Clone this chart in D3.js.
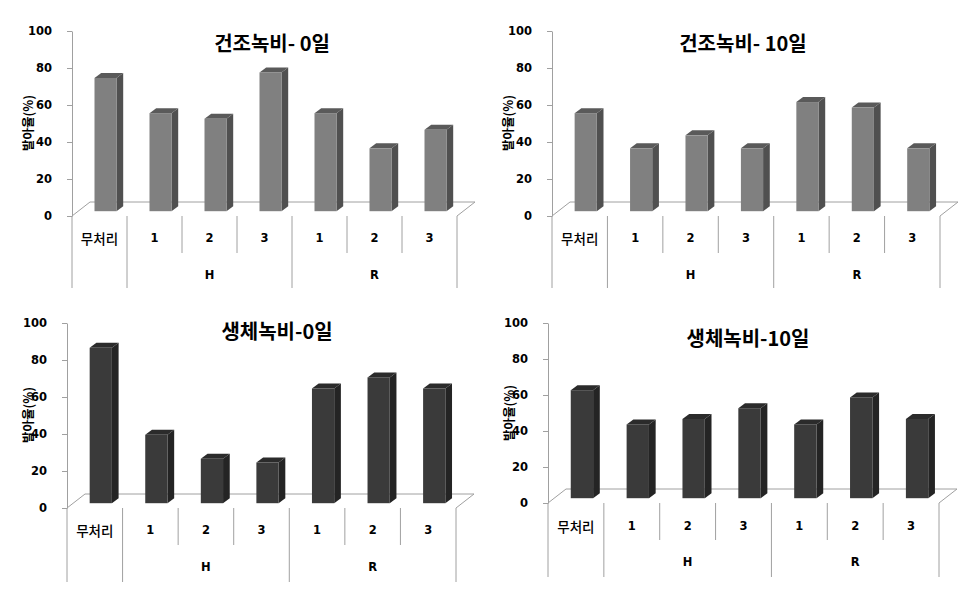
<!DOCTYPE html>
<html>
<head>
<meta charset="utf-8">
<script src="https://cdn.jsdelivr.net/npm/d3@7/dist/d3.min.js"></script>
<style>
  html, body { margin: 0; padding: 0; background: #fff; }
  svg { display: block; }
</style>
</head>
<body>
<svg id="chart" width="973" height="594"></svg>
<script>
// ---------- data ----------
const categories = ["무처리", "1", "2", "3", "1", "2", "3"];
const groupLabels = ["", "H", "R"];
const groupSpans = [1, 3, 3];
const yTicks = [0, 20, 40, 60, 80, 100];
const yLabel = "발아율(%)";
const titles = ["건조녹비- 0일", "건조녹비- 10일", "생체녹비-0일", "생체녹비-10일"];
const dry0 = [72, 53, 50, 75, 53, 34, 44];
const dry10 = [53, 34, 41, 34, 59, 56, 34];
const fresh0 = [84, 37, 24, 22, 62, 68, 62];
const fresh10 = [60, 41, 44, 50, 41, 56, 44];

// ---------- layout / style ----------
const grayBar = { front: "#808080", side: "#505050", top: "#5a5a5a" };
const darkBar = { front: "#3a3a3a", side: "#242424", top: "#2b2b2b" };
const panels = [
  { values: dry0, title: titles[0], colors: grayBar, axisX: 72, right: 457, yTop: 31, y0: 216,
    row1: 253, row2: 288, lab1: 238, lab2: 275, tx: 272, ty: 42, lx: 27, ly: 123 },
  { values: dry10, title: titles[1], colors: grayBar, axisX: 552, right: 940, yTop: 31, y0: 216,
    row1: 253, row2: 288, lab1: 238, lab2: 275, tx: 743, ty: 42, lx: 507, ly: 123 },
  { values: fresh0, title: titles[2], colors: darkBar, axisX: 67, right: 456, yTop: 323, y0: 508,
    row1: 545, row2: 582, lab1: 530, lab2: 567, tx: 277, ty: 330, lx: 27, ly: 415 },
  { values: fresh10, title: titles[3], colors: darkBar, axisX: 548, right: 939, yTop: 323, y0: 503,
    row1: 540, row2: 577, lab1: 526, lab2: 562, tx: 748, ty: 337, lx: 508, ly: 413 }
];
const lineColor = "#a0a0a0";
const depthDX = 18, depthDY = -14;      // floor depth
const barOffX = 6, barOffY = -4.8;      // bar sits slightly back in the floor
const barDX = 6.7, barDY = -5;          // bar's own depth
const barWidthFrac = 0.4;

const svg = d3.select("#chart");

panels.forEach(p => {
  const g = svg.append("g");
  const y = d3.scaleLinear().domain([0, 100]).range([p.y0, p.yTop]);
  const x = d3.scaleBand().domain(d3.range(categories.length)).range([p.axisX, p.right]).paddingInner(0).paddingOuter(0);
  const bw = x.bandwidth() * barWidthFrac;

  // floor outline
  const floorPts = [
    [p.axisX, p.y0], [p.axisX + depthDX, p.y0 + depthDY],
    [p.right + depthDX, p.y0 + depthDY], [p.right, p.y0]
  ];
  g.append("path")
    .attr("d", d3.line()(floorPts))
    .attr("fill", "none").attr("stroke", lineColor).attr("stroke-width", 1);

  // y axis
  const yAxis = d3.axisLeft(y).tickValues(yTicks).tickSize(5).tickPadding(15).tickSizeOuter(0);
  const ax = g.append("g").attr("transform", `translate(${p.axisX},0)`).call(yAxis);
  ax.select(".domain").attr("stroke", lineColor);
  ax.selectAll(".tick line").attr("stroke", lineColor);
  ax.selectAll(".tick text")
    .attr("fill", "#000")
    .style("font-family", "'DejaVu Sans', sans-serif")
    .style("font-weight", "bold")
    .style("font-size", "11.5px");

  // bars
  const bars = g.append("g");
  p.values.forEach((v, i) => {
    const cx = x(i) + x.bandwidth() / 2 + barOffX;
    const xl = cx - bw / 2, xr = cx + bw / 2;
    const yb = y(0) + barOffY, yt = y(v) + barOffY;
    bars.append("path")
      .attr("d", d3.line()([[xr, yb], [xr + barDX, yb + barDY], [xr + barDX, yt + barDY], [xr, yt]]) + "Z")
      .attr("fill", p.colors.side);
    bars.append("path")
      .attr("d", d3.line()([[xl, yt], [xl + barDX, yt + barDY], [xr + barDX, yt + barDY], [xr, yt]]) + "Z")
      .attr("fill", p.colors.top);
    bars.append("rect")
      .attr("x", xl).attr("y", yt).attr("width", bw).attr("height", yb - yt)
      .attr("fill", p.colors.front);
  });

  // category axis lines
  const groupStarts = [];
  let acc = 0;
  groupSpans.forEach(s => { groupStarts.push(acc); acc += s; });
  for (let i = 0; i <= categories.length; i++) {
    const xx = i < categories.length ? x(i) : p.right;
    const isGroupEdge = i === categories.length || groupStarts.includes(i);
    g.append("line")
      .attr("x1", xx).attr("x2", xx)
      .attr("y1", p.y0).attr("y2", isGroupEdge ? p.row2 : p.row1)
      .attr("stroke", lineColor).attr("stroke-width", 1);
  }

  // category labels
  categories.forEach((c, i) => {
    const isHangul = /[\uAC00-\uD7A3]/.test(c);
    g.append("text")
      .attr("x", x(i) + x.bandwidth() / 2)
      .attr("y", p.lab1)
      .attr("text-anchor", "middle")
      .attr("dominant-baseline", "central")
      .style("font-family", isHangul ? "'Noto Sans CJK KR', sans-serif" : "'DejaVu Sans', sans-serif")
      .style("font-weight", isHangul ? "500" : "bold")
      .style("font-size", isHangul ? "13.5px" : "11.5px")
      .text(c);
  });

  // group labels
  groupLabels.forEach((gl, k) => {
    if (!gl) return;
    const s = groupStarts[k], e = s + groupSpans[k];
    const x1 = x(s), x2 = e < categories.length ? x(e) : p.right;
    g.append("text")
      .attr("x", (x1 + x2) / 2)
      .attr("y", p.lab2)
      .attr("text-anchor", "middle")
      .attr("dominant-baseline", "central")
      .style("font-family", "'DejaVu Sans', sans-serif")
      .style("font-weight", "bold")
      .style("font-size", "11.5px")
      .text(gl);
  });

  // title
  g.append("text")
    .attr("x", p.tx).attr("y", p.ty)
    .attr("text-anchor", "middle")
    .attr("dominant-baseline", "central")
    .style("font-family", "'Noto Sans CJK KR', sans-serif")
    .style("font-weight", "bold")
    .style("font-size", "20px")
    .text(p.title);

  // y label
  g.append("text")
    .attr("transform", `translate(${p.lx},${p.ly}) rotate(-90)`)
    .attr("text-anchor", "middle")
    .attr("dominant-baseline", "central")
    .attr("fill", "#000")
    .style("font-family", "'Noto Sans CJK KR', sans-serif")
    .style("font-weight", "bold")
    .style("font-size", "12.5px")
    .text(yLabel);
});
</script>
</body>
</html>
